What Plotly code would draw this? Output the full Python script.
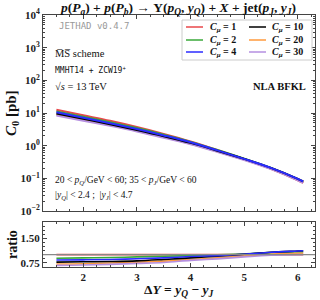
import plotly.graph_objects as go

# ---- data ----
dY = [1.5, 2.0, 2.5, 3.0, 3.5, 4.0, 4.5, 5.0, 5.5, 6.0, 6.1]
c_mu = [1, 2, 4, 10, 20, 30]
C0_1 = [12.6, 8.5, 5.75, 3.72, 2.29, 1.35, 0.74, 0.39, 0.195, 0.087, 0.072]
C0_2 = [11.2, 7.65, 5.23, 3.46, 2.18, 1.31, 0.733, 0.398, 0.207, 0.094, 0.078]
C0_4 = [10.5, 7.14, 4.89, 3.24, 2.06, 1.27, 0.718, 0.394, 0.209, 0.0966, 0.0806]
C0_10 = [9.70, 6.63, 4.54, 3.01, 1.95, 1.215, 0.703, 0.394, 0.209, 0.0966, 0.0806]
C0_20 = [8.95, 6.12, 4.26, 2.86, 1.83, 1.15, 0.666, 0.374, 0.197, 0.0905, 0.0749]
C0_30 = [8.44, 5.78, 4.03, 2.72, 1.74, 1.11, 0.644, 0.363, 0.191, 0.087, 0.072]
series = [C0_1, C0_2, C0_4, C0_10, C0_20, C0_30]
colors = ['#e8474a', '#3aa83a', '#2b2bff', '#000000', '#ff9a3c', '#b58fe0']
y_tick_exp = [-2, -1, 0, 1, 2, 3, 4]
x_ticks = [2, 3, 4, 5, 6]
ratio_ticks = [0.75, 1.50]

# pixel helpers (plot area: x 43..315, y 15..267)
L, R, T, B = 43, 5, 15, 33
W, H = 320, 300
pw, ph = W - L - R, H - T - B
def px(x): return (x - L) / pw
def py(y): return (H - B - y) / ph

SERIF = "Liberation Serif"
MONO = "DejaVu Sans Mono"

fig = go.Figure()
draw_order = [0, 1, 4, 5, 3, 2]
for i in draw_order:
    fig.add_trace(go.Scatter(x=dY, y=series[i], mode='lines', line=dict(color=colors[i], width=2.0, shape='spline'),
                             xaxis='x', yaxis='y', showlegend=False))
ref = series[0]
for i in draw_order:
    ratio = [v / r for v, r in zip(series[i], ref)]
    fig.add_trace(go.Scatter(x=dY, y=ratio, mode='lines', line=dict(color=colors[i], width=1.6, shape='spline'),
                             xaxis='x2', yaxis='y2', showlegend=False))

minor_vals = [m * 10 ** e for e in range(-2, 4) for m in range(2, 10)]
tickfont = dict(family=SERIF, size=11, color='#222', weight='bold')
axcommon = dict(showline=True, linecolor='#444', linewidth=1, mirror='allticks', ticks='inside',
                ticklen=4, tickcolor='#444', showgrid=False, zeroline=False, automargin=False)
main_dom = [py(211), 1.0]
ratio_dom = [0.0, py(222)]
fig.update_layout(
    width=W, height=H, margin=dict(l=L, r=R, t=T, b=B, autoexpand=False),
    paper_bgcolor='white', plot_bgcolor='white',
    xaxis=dict(domain=[0, 1], anchor='y', range=[1.25, 6.32], tickvals=x_ticks, showticklabels=False,
               minor=dict(ticks='inside', ticklen=2, dtick=0.25, tickcolor='#444'), **axcommon),
    yaxis=dict(domain=main_dom, anchor='x', type='log', range=[-2, 4],
               tickvals=[10 ** e for e in y_tick_exp], ticktext=[f'10<sup>{e}</sup>'.replace('-', '−') for e in y_tick_exp],
               tickfont=tickfont,
               minor=dict(ticks='inside', ticklen=2, tickvals=minor_vals, tickcolor='#444'), **axcommon),
    xaxis2=dict(domain=[0, 1], anchor='y2', range=[1.25, 6.32], tickvals=x_ticks, tickfont=tickfont,
                minor=dict(ticks='inside', ticklen=2, dtick=0.25, tickcolor='#444'), **axcommon),
    yaxis2=dict(domain=ratio_dom, anchor='x2', range=[0.62, 2.0], tickvals=ratio_ticks,
                ticktext=['0.75', '1.50'], tickfont=tickfont,
                minor=dict(ticks='inside', ticklen=2, dtick=0.125, tickcolor='#444'), **axcommon),
)
# reference line in ratio panel
fig.add_shape(type='line', xref='x2 domain', yref='y2', x0=0, x1=1, y0=1, y1=1,
              line=dict(color='#888', width=1.2), layer='above')

ann = []
def text(x, y, s, size=10, family=SERIF, color='#111', xanchor='left', **kw):
    ann.append(dict(x=px(x), y=py(y), xref='paper', yref='paper', text=s, showarrow=False,
                    xanchor=xanchor, yanchor='middle', font=dict(family=family, size=size, color=color, **kw)))

# title
ann.append(dict(x=px(178), y=py(8), xref='paper', yref='paper', showarrow=False, xanchor='center', yanchor='middle',
                text='<i>p</i>(<i>P<sub>a</sub></i>) + <i>p</i>(<i>P<sub>b</sub></i>) → Υ(<i>p<sub>Q</sub></i>, <i>y<sub>Q</sub></i>) + <i>X</i> + jet(<i>p<sub>J</sub></i>, <i>y<sub>J</sub></i>)',
                font=dict(family=SERIF, size=13.5, color='#111', weight='bold')))
text(57, 26, 'JETHAD v0.4.7', size=9, family=MONO, color='#999')
text(53, 53, 'M̅S̅ scheme', size=10.5)
text(53, 70, 'MMHT14 + ZCW19<sup>+</sup>', size=8, family=MONO)
text(53, 86, '√<i>s</i> = 13 TeV', size=10.5)
text(308, 86, 'NLA BFKL', size=10.5, xanchor='right', weight='bold')
text(53, 180, '20 < <i>p<sub>Q</sub></i>/GeV < 60; 35 < <i>p<sub>J</sub></i>/GeV < 60', size=9.5)
text(53, 195, '|<i>y<sub>Q</sub></i>| < 2.4 ;  |<i>y<sub>J</sub></i>| < 4.7', size=9.5)

# axis titles
ann.append(dict(x=px(12), y=py(113), xref='paper', yref='paper', showarrow=False, textangle=-90,
                xanchor='center', yanchor='middle', text='<i>C</i><sub>0</sub> [pb]',
                font=dict(family=SERIF, size=15, color='#111', weight='bold')))
ann.append(dict(x=px(12), y=py(245), xref='paper', yref='paper', showarrow=False, textangle=-90,
                xanchor='center', yanchor='middle', text='ratio',
                font=dict(family=SERIF, size=14, color='#111', weight='bold')))
ann.append(dict(x=px(178), y=py(290), xref='paper', yref='paper', showarrow=False,
                xanchor='center', yanchor='middle', text='Δ<i>Y</i> = <i>y<sub>Q</sub></i> − <i>y<sub>J</sub></i>',
                font=dict(family=SERIF, size=13.5, color='#111', weight='bold')))

# legend (manual, two columns)
fig.add_shape(type='rect', xref='paper', yref='paper', x0=px(182), x1=px(312), y0=py(60), y1=py(20),
              line=dict(color='#ccc', width=1), fillcolor='rgba(255,255,255,0.85)', layer='above')
rows = [27, 40, 52]
cols = [(186, 203, 208), (249, 266, 270)]
for k, (cm, col) in enumerate(zip(c_mu, colors)):
    c = cols[k // 3]
    r = rows[k % 3]
    fig.add_shape(type='line', xref='paper', yref='paper', x0=px(c[0]), x1=px(c[1]), y0=py(r), y1=py(r),
                  line=dict(color=col, width=1.5), layer='above')
    text(c[2], r, f'<i>C<sub>μ</sub></i> = {cm}', size=10, weight='bold')

fig.update_layout(annotations=ann)
fig.write_html("out.html", config={'displayModeBar': False},
               post_script="document.body.style.margin='0';document.body.style.padding='0';")
